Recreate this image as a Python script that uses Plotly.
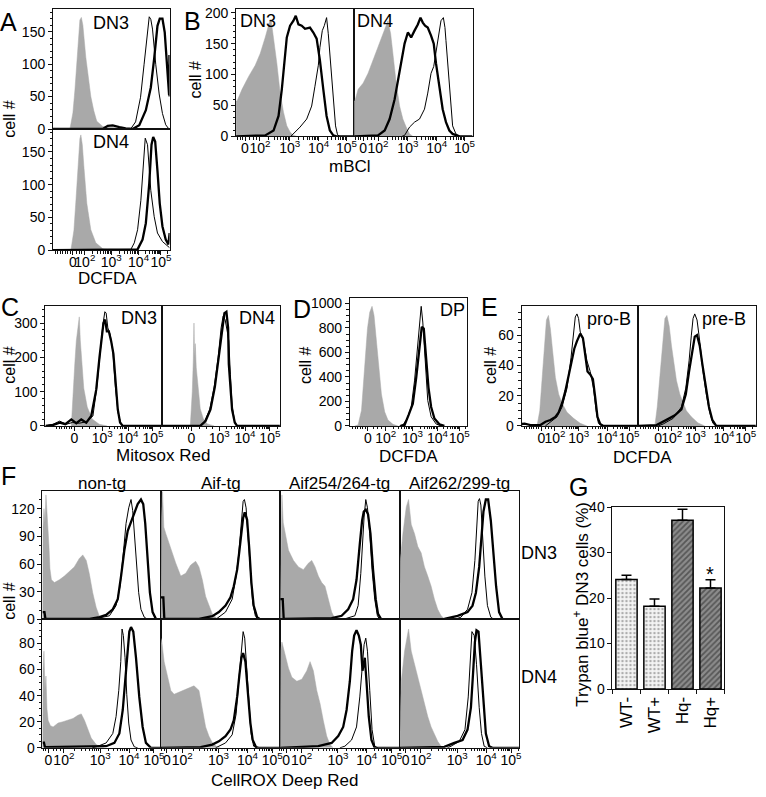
import math
import plotly.graph_objects as go

W, H = 766, 797
FONT = "Liberation Sans, Arial, Helvetica, sans-serif"
GRAY = "#a9a9a9"
INK = "#111111"

# ---------------- data (x = display channel within a panel, y = cell count) ----------------
# A: DCFDA, DN3 / DN4
A3_GRAY_X = [17, 20, 22, 25, 27, 28.5, 30, 33, 35.5, 38, 41, 44, 50, 58, 66, 75]
A3_GRAY_Y = [0, 25, 60, 135, 168, 172, 160, 110, 78, 50, 28, 12, 4, 3, 2, 0]
A3_THIN_X = [0, 78, 83, 88, 91.5, 95, 96.7, 98.3, 100, 103.3, 106.7, 110, 113.3, 116, 117.2]
A3_THIN_Y = [0, 0, 11, 49, 99, 154, 173, 169, 154, 99, 54, 24, 6.5, 1, 0]
A3_BOLD_X = [0, 50, 55, 60, 66.7, 73, 80, 86.7, 93.3, 98.3, 101.7, 105, 107.3, 110, 112.3, 114.3, 116, 116.7, 117, 117.2]
A3_BOLD_Y = [0, 0, 5, 5.5, 3, 1, 0, 6, 29, 64, 109, 159, 170, 170, 149, 99, 59, 52, 114, 50]
A4_GRAY_X = [18, 21, 23, 25, 27, 28, 29.5, 31, 34, 38, 43, 50, 58]
A4_GRAY_Y = [0, 30, 75, 131, 170, 176, 160, 128, 71, 31, 11, 2, 0]
A4_THIN_X = [0, 76, 78.3, 81.7, 85, 88.3, 90.7, 92.7, 95, 98.3, 101.7, 105, 110, 113.3, 117.2]
A4_THIN_Y = [0, 0, 1, 11, 31, 76, 131, 171, 161, 91, 51, 26, 13, 8.5, 3.5]
A4_BOLD_X = [0, 82, 85, 90, 93.3, 96.7, 99, 100.7, 102.7, 105, 107.3, 110, 113.3, 116, 117, 117.2]
A4_BOLD_Y = [0, 0, 1, 16, 41, 101, 161, 173, 166, 121, 71, 36, 16, 8.5, 26, 26]

# B: mBCl, DN3 / DN4
B3_GRAY_X = [0, 1, 6, 12.7, 19.3, 24.3, 29.3, 32.7, 34.3, 35.5, 37.7, 41, 44.3, 47.7, 51, 54.3, 57.7, 61]
B3_GRAY_Y = [57, 57, 76, 97, 115, 134, 160, 181, 189, 185, 160, 118, 70, 39, 17, 7, 1.6, 0]
B3_THIN_X = [55, 57.7, 64.3, 71, 76, 79.3, 82.7, 84.3, 86.7, 88.7, 91, 92.7, 95.3, 97.7, 100, 102, 104.3]
B3_THIN_Y = [0, 4, 15, 28, 49, 81, 115, 144, 171, 179, 192, 166, 113, 60, 17, 2.6, 0]
B3_BOLD_X = [0, 29.3, 37.7, 42.7, 46, 48.7, 51, 54.3, 57.7, 60, 62.7, 66, 69.3, 74.3, 77.7, 81, 84.3, 87.7, 91, 94.3, 97.7, 101, 119]
B3_BOLD_Y = [0, 1.6, 9.5, 33, 76, 123, 160, 179, 187, 195, 181, 179, 174, 176, 168, 158, 123, 76, 33, 9.5, 1.6, 0, 0]
B4_GRAY_X = [0, 0.7, 4, 9, 14, 19, 24, 29, 32.3, 34, 36.7, 39, 42.3, 45.7, 49, 52.3, 55.7, 59]
B4_GRAY_Y = [57, 57, 76, 86, 102, 123, 144, 166, 181, 187, 166, 129, 86, 49, 28, 15, 4, 0]
B4_THIN_X = [48, 50.7, 55.7, 60.7, 65.7, 70.7, 74, 77.3, 80, 83.3, 85.7, 87.3, 89.7, 91.3, 92.3, 94.7, 96.7, 99, 102.3, 105.7]
B4_THIN_Y = [0, 1.6, 15, 23, 28, 44, 70, 102, 113, 150, 176, 187, 192, 176, 155, 102, 54, 17, 4, 0]
B4_BOLD_X = [0, 24, 30.7, 35.7, 40.7, 44, 47.3, 50.7, 54, 57.3, 60.7, 64, 66.7, 69, 71.3, 74, 77.3, 80, 82.3, 85.7, 89, 92.3, 95.7, 99, 102.3, 106, 119]
B4_BOLD_Y = [0, 1.6, 9.5, 28, 60, 92, 123, 150, 168, 160, 171, 181, 192, 184, 179, 176, 163, 150, 118, 76, 44, 23, 9.5, 4, 1.6, 0, 0]

# C: Mitosox Red, DN3 / DN4
C3_GRAY_X = [26, 28, 29.5, 31, 32.5, 34, 35, 36.5, 38.5, 42, 47, 54, 62]
C3_GRAY_Y = [0, 130, 181, 248, 290, 318, 250, 175, 110, 55, 20, 5, 0]
C3_THIN_X = [0, 7.7, 14.3, 21, 27, 34, 41, 47.7, 51.7, 55, 57.7, 59.7, 61, 62.7, 65, 67.7, 70.3, 73, 76, 78.5]
C3_THIN_Y = [0, 5, 14, 5, 10, 8, 12, 29, 114, 219, 295, 333, 329, 286, 267, 219, 114, 38, 5, 0]
C3_BOLD_X = [0, 8, 14.3, 20, 26, 31, 36, 41, 46, 51, 54.3, 56.7, 58.3, 60, 61.7, 63.7, 66, 68.3, 70.3, 72.7, 75, 77.7, 118]
C3_BOLD_Y = [0, 3, 9.5, 5, 19, 8, 19, 9.5, 29, 105, 200, 257, 300, 310, 276, 276, 248, 210, 124, 48, 10, 0, 0]
C4_GRAY_X = [28, 30, 31, 31.7, 32.3, 33, 34, 35, 36.5, 38, 41, 45, 52]
C4_GRAY_Y = [0, 100, 190, 300, 200, 240, 170, 140, 90, 50, 22, 6, 0]
C4_THIN_X = [38, 42.5, 47.5, 52, 56, 59, 61, 63, 65.5, 66.7, 68.3, 70, 72.7, 75.5]
C4_THIN_Y = [0, 14, 48, 114, 200, 286, 320, 310, 270, 248, 150, 60, 10, 0]
C4_BOLD_X = [0, 38, 43.3, 48.3, 52.7, 56.7, 60, 62.3, 64.3, 66, 66.7, 68.3, 70, 72.7, 75, 118]
C4_BOLD_Y = [0, 0, 14, 48, 114, 200, 286, 329, 333, 286, 181, 105, 48, 10, 0, 0]

# D: DCFDA, DP
D_GRAY_X = [5, 8.3, 11.7, 15, 17.7, 20, 22.3, 24.3, 26.7, 29, 31.7, 35, 38.3, 43.3, 48.3]
D_GRAY_Y = [0, 8, 128, 501, 795, 928, 976, 901, 688, 448, 261, 115, 48, 13, 0]
D_THIN_X = [50, 53.3, 57.7, 61.7, 65, 67.7, 70, 71.7, 73.3, 75.7, 78.3, 81.7, 86.7, 91.7]
D_THIN_Y = [0, 8, 61, 155, 368, 635, 875, 976, 848, 501, 208, 75, 16, 0]
D_BOLD_X = [51, 55, 59, 63.3, 66.7, 70, 72.3, 74.3, 76.7, 79, 81.7, 85, 90, 95]
D_BOLD_Y = [0, 8, 88, 181, 395, 661, 808, 795, 555, 315, 155, 61, 13, 0]

# E: DCFDA, pro-B / pre-B
EP_GRAY_X = [14, 15.7, 18.3, 20.7, 23, 25, 27, 29, 31.3, 34, 37.3, 40.7, 45.7, 52.3, 59, 65.7]
EP_GRAY_Y = [0, 0.6, 10, 32, 56, 70, 73, 64, 49, 32, 21, 15, 9, 5, 1.7, 0]
EP_THIN_X = [24, 29, 35.7, 40.7, 45.7, 49.7, 52.3, 54, 55.7, 57.3, 59, 62.3, 65.7, 69, 72.3, 75, 77.3, 80.7]
EP_THIN_Y = [0, 2.8, 6, 12.5, 25, 45, 60, 72, 74, 71, 62, 56, 43, 36, 25, 10, 1.7, 0]
EP_BOLD_X = [0, 0.7, 3, 9, 19, 24, 29, 34, 37.3, 40.7, 44, 47.3, 50.7, 53, 55.7, 59, 61.7, 64, 66.3, 69, 71.7, 74, 76.3, 79, 82.3, 117.4]
EP_BOLD_Y = [1.5, 1.3, 1.5, 0.6, 0.6, 2.8, 3.9, 6, 9, 15, 23, 34, 45, 51, 56, 61, 58, 45, 36, 34, 31, 19, 6, 1.3, 0, 0]
EQ_GRAY_X = [14, 16.7, 19, 21.7, 24.3, 26.7, 28.7, 31, 33.3, 35.7, 38.3, 41.7, 45, 48.3, 53.3, 60, 66.7]
EQ_GRAY_Y = [0, 0.6, 12.5, 34, 56, 71, 73, 66, 53, 41, 30, 21, 15, 10, 6, 2, 0]
EQ_THIN_X = [20, 25, 35, 43.3, 47.7, 51, 53.3, 55, 56.7, 59, 61.7, 65, 68.3, 71.7, 75, 78.3]
EQ_THIN_Y = [0, 1.3, 5, 12.5, 25, 43, 60, 71, 74, 70, 56, 36, 21, 9, 1.7, 0]
EQ_BOLD_X = [0, 18.3, 28.3, 36.7, 43.3, 47.7, 51, 54.3, 56.7, 59, 61.7, 64.3, 67.7, 71, 74.3, 78.3, 118]
EQ_BOLD_Y = [0, 0.6, 4, 7, 11, 21, 36, 51, 59, 60, 53, 41, 25, 12.5, 4, 0, 0]

# F: CellROX Deep Red, rows DN3 / DN4, columns non-tg, Aif-tg, Aif254/264-tg, Aif262/299-tg
F13_GRAY_X = [0, 0.5, 1.5, 2.5, 3.5, 5, 6.5, 7.5, 9, 12, 17, 22, 27, 32, 37, 40.5, 44, 47, 50.5, 54, 57, 61]
F13_GRAY_Y = [0, 100, 120, 105, 135, 110, 80, 55, 43, 40, 43, 47, 52, 57, 66, 70, 64, 50, 29, 13, 4, 0]
F13_THIN_X = [50, 57.3, 67.3, 74, 78, 81.3, 84, 86.7, 89, 90.7, 92.3, 94, 96.7, 99, 102.3, 105.7]
F13_THIN_Y = [0, 1.4, 4, 15, 36, 72, 104, 121, 130, 118, 93, 61, 29, 11, 2.5, 0]
F13_BOLD_X = [0, 0.5, 2, 3, 47.3, 57.3, 64, 70.7, 75.7, 79, 82.3, 85.7, 89, 92.3, 95.7, 99, 101.3, 103.3, 105.7, 108, 110.7, 114, 119]
F13_BOLD_Y = [8, 8, 8, 0.5, 0.7, 2.5, 5, 11, 22, 47, 75, 96, 105, 114, 125, 130, 125, 104, 68, 29, 8, 0.7, 0]
F23_GRAY_X = [0, 0.7, 1.7, 3, 5, 8.3, 11.7, 15, 20, 25, 30, 35, 38.3, 41.7, 45, 48.3, 51.7, 56.7, 61.7]
F23_GRAY_Y = [0, 110, 139, 100, 93, 82, 72, 61, 47, 50, 59, 63, 57, 43, 25, 15, 6, 0.7, 0]
F23_THIN_X = [55, 65, 71.7, 75.7, 78.3, 80.7, 82.7, 84, 85.7, 87.7, 90, 92.3, 95, 98.3]
F23_THIN_Y = [0, 8, 22, 47, 71, 104, 128, 130, 121, 89, 50, 18, 4, 0]
F23_BOLD_X = [0, 0.5, 2.5, 3.5, 38.3, 51.7, 58.3, 65, 70, 73.3, 76.7, 79, 81, 82.7, 84.3, 86.7, 89, 91, 93.3, 96.7, 100, 120]
F23_BOLD_Y = [24, 24, 24, 0.5, 0.7, 3.5, 8, 15, 24, 36, 54, 75, 96, 110, 116, 108, 75, 40, 15, 2.5, 0, 0]
F33_GRAY_X = [0, 0.7, 1.7, 3, 5, 8.3, 13.3, 18.3, 23.3, 28.3, 31.7, 35, 38.3, 41.7, 45, 48.3, 51.7, 55, 58.3]
F33_GRAY_Y = [0, 100, 135, 105, 93, 75, 64, 57, 54, 61, 64, 57, 47, 40, 36, 22, 8, 0.7, 0]
F33_THIN_X = [60, 65, 75, 78.3, 81, 82.7, 84.3, 86, 87.7, 90, 92.3, 95, 97.7, 100]
F33_THIN_Y = [0, 0.7, 4, 15, 50, 86, 111, 130, 121, 93, 54, 22, 4, 0]
F33_BOLD_X = [0, 0.5, 2.5, 3.5, 51.7, 61.7, 68.3, 73.3, 76.7, 80, 82.3, 84, 86, 88.3, 90.7, 93.3, 96, 98.3, 101.7, 120]
F33_BOLD_Y = [22, 22, 22, 0.5, 1.4, 4, 11, 22, 43, 82, 107, 117, 119, 114, 93, 54, 22, 6, 0, 0]
F43_GRAY_X = [0, 0.7, 3.3, 6.7, 9, 11.7, 15, 18.3, 21.7, 25, 28.3, 31.7, 35, 38.3, 41.7, 45, 48.3]
F43_GRAY_Y = [0, 64, 93, 122, 130, 103, 93, 79, 72, 57, 47, 36, 22, 11, 4, 0.7, 0]
F43_THIN_X = [55, 61.7, 68.3, 72.7, 75.7, 77.7, 79, 80.3, 81.7, 83.3, 85.7, 88.3, 91.7, 95]
F43_THIN_Y = [0, 2.5, 11, 29, 64, 100, 128, 131, 124, 93, 47, 15, 2.5, 0]
F43_BOLD_X = [0, 45, 58.3, 68.3, 73.3, 76.7, 80, 82.3, 84.3, 86.7, 89, 91.7, 94.3, 97, 100, 103.3, 106, 120]
F43_BOLD_Y = [0, 0.7, 4, 8, 15, 29, 57, 93, 117, 130, 130, 107, 72, 36, 8, 0.7, 0, 0]
F14_GRAY_X = [0, 0.5, 1.5, 2.5, 3.5, 4.5, 5.7, 8, 10.7, 15.7, 20.7, 25.7, 30.7, 35.7, 39, 42.3, 45.7, 49, 54, 59, 62.3]
F14_GRAY_Y = [0, 60, 74, 45, 55, 30, 21, 17, 16, 19, 20, 21, 22.5, 25, 26, 21, 14, 7.5, 2.5, 0.5, 0]
F14_THIN_X = [50, 54, 64, 70.7, 74, 76.7, 78.7, 80, 81.3, 83, 84.7, 86.7, 89, 92.3, 95.7]
F14_THIN_Y = [0, 0.75, 3.75, 11, 24, 44, 66, 91, 86, 69, 41, 19, 6, 0.75, 0]
F14_BOLD_X = [0, 1.5, 2.5, 50.7, 64, 72.3, 77.3, 80.7, 83.3, 85.7, 87.3, 89, 91.3, 94, 97.3, 100.7, 104, 109, 119]
F14_BOLD_Y = [4, 4, 0.5, 0.75, 1.25, 3.75, 11, 29, 51, 74, 89, 92.5, 89, 69, 39, 16, 3.75, 0, 0]
F24_GRAY_X = [0, 1, 3.3, 6.7, 10, 13.3, 18.3, 23.3, 28.3, 33.3, 38.3, 41.7, 45, 48.3, 51.7, 56.7, 60]
F24_GRAY_Y = [84, 81, 66, 54, 44, 41, 42.5, 44, 46, 47.5, 44, 29, 16, 9, 4, 0.5, 0]
F24_THIN_X = [55, 65, 71.7, 75.7, 78.3, 80.7, 82.7, 84.3, 86.3, 88.3, 90.7, 93.3, 96.7]
F24_THIN_Y = [0, 3.75, 10, 26, 51, 74, 89, 84, 61, 34, 11, 1.25, 0]
F24_BOLD_X = [0, 40, 51.7, 58.3, 65, 70, 73.3, 76.7, 79, 81, 82.7, 85, 87.3, 90, 92.3, 95.7, 98.3, 120]
F24_BOLD_Y = [0, 0.5, 2.5, 5, 9, 14, 21, 39, 56, 69, 72.5, 66, 44, 19, 6, 0.5, 0, 0]
F34_GRAY_X = [0, 0.7, 1.7, 5, 8.3, 11.7, 16.7, 21.7, 26.7, 30, 33.3, 36.7, 40, 43.3, 46.7, 50, 53.3]
F34_GRAY_Y = [0, 75, 81, 71, 61, 54, 51, 52.5, 59, 66, 59, 44, 34, 21, 9, 2.5, 0]
F34_THIN_X = [60, 65, 71.7, 76.7, 80, 82.3, 84.3, 86, 87.7, 90, 92.3, 95, 98.3]
F34_THIN_Y = [0, 1.25, 6, 16, 39, 64, 79, 84, 74, 44, 14, 1.25, 0]
F34_BOLD_X = [0, 38.3, 51.7, 58.3, 63.3, 66.7, 70, 72.3, 74.3, 76.7, 79, 81, 82.7, 85, 86.7, 89, 91.7, 95, 120]
F34_BOLD_Y = [0, 1.25, 3.75, 9, 16, 29, 51, 74, 86, 90, 86, 79, 59, 69, 51, 24, 6, 0, 0]
F44_GRAY_X = [0, 1.7, 5, 9, 11.7, 15, 18.3, 21.7, 25, 28.3, 31.7, 35, 38.3, 41.7, 45]
F44_GRAY_Y = [0, 51, 74, 91, 74, 64, 54, 44, 34, 24, 16, 10, 5, 1.25, 0]
F44_THIN_X = [48, 51.7, 60, 65.7, 69, 71, 72.7, 75, 77.3, 80, 82.3, 85, 88.3]
F44_THIN_Y = [0, 1.25, 5, 14, 39, 69, 89, 86, 64, 31, 11, 1.25, 0]
F44_BOLD_X = [0, 45, 55, 63.3, 68.3, 71.7, 74, 75.7, 77.3, 79.3, 81.7, 84.3, 86.7, 90, 93.3, 120]
F44_BOLD_Y = [0, 0.75, 3.75, 6, 14, 31, 59, 81, 90, 89, 64, 34, 11, 1.25, 0, 0]

F_COLS = ["non-tg", "Aif-tg", "Aif254/264-tg", "Aif262/299-tg"]

# G: trypan blue+ DN3 cells (%)
G_CATS = ["WT-", "WT+", "Hq-", "Hq+"]
G_MEAN = [24.1, 18.2, 37.1, 22.2]
G_SEM = [0.9, 1.6, 2.4, 1.8]

# x tick label positions (channel) per panel type
DEC = ["0", "10<sup>2</sup>", "10<sup>3</sup>", "10<sup>4</sup>", "10<sup>5</sup>"]
A_XT = [20, 32, 58.5, 86, 108.5]
B_XT = [9, 24, 54, 83, 111]
C_XT = [29, 57, 83, 108]
D_XT = [18, 36, 63, 88, 110]
E_XT = [20, 33.5, 57.5, 86, 108]
F_XT = [6, 21.5, 58, 87, 112]

fig = go.Figure()
n_axes = [0]


def minor_ticks(pos, width):
    # log-spaced minor ticks between decade labels, plus a few linear ones near zero
    out = []
    decs = pos[1:]
    for a, b in zip(decs[:-1], decs[1:]):
        out += [a + math.log10(m) * (b - a) for m in range(2, 10)]
    step = decs[-1] - decs[-2]
    out += [decs[-1] + math.log10(m) * step for m in range(2, 10) if decs[-1] + math.log10(m) * step < width]
    z = pos[0]
    out += [z - 2.5 * i for i in range(1, 8) if z - 2.5 * i > 0.5]
    out += [z + (decs[0] - z) * f for f in (0.3, 0.55, 0.75)]
    return out


def panel(box, yr, ydt, ymin, xt=None, ylab=True):
    n_axes[0] += 1
    k = "" if n_axes[0] == 1 else str(n_axes[0])
    l, t, r, b = box
    base = dict(showline=True, linecolor=INK, linewidth=1, mirror=True, showgrid=False,
                zeroline=False, fixedrange=True, ticks="outside", tickcolor=INK, ticklen=4,
                tickfont=dict(family=FONT, size=14, color="black"))
    xa = dict(base, domain=[l / W, r / W], range=[0, r - l], anchor="y" + k, tickangle=0,
              ticklabelstandoff=-5, tickfont=dict(family=FONT, size=14, color="black"))
    if xt is not None:
        labels = DEC if len(xt) == 5 else ["0"] + DEC[2:]
        xa.update(tickmode="array", tickvals=xt, ticktext=labels,
                  minor=dict(tickmode="array", tickvals=minor_ticks(xt, r - l),
                             ticks="outside", ticklen=2.5, tickcolor=INK))
    else:
        xa.update(ticks="", showticklabels=False)
    ya = dict(base, domain=[1 - b / H, 1 - t / H], range=[0, yr], anchor="x" + k)
    if ylab:
        ya.update(tickmode="linear", tick0=0, dtick=ydt,
                  minor=dict(tickmode="linear", tick0=0, dtick=ymin, ticks="outside",
                             ticklen=2.5, tickcolor=INK))
    else:
        ya.update(ticks="", showticklabels=False)
    fig.update_layout({"xaxis" + k: xa, "yaxis" + k: ya})
    return "x" + k, "y" + k


def hist(ax, gx, gy, tx, ty, bx, by):
    xa, ya = ax
    fig.add_trace(go.Scatter(x=gx, y=gy, xaxis=xa, yaxis=ya, mode="lines", fill="tozeroy",
                             fillcolor=GRAY, line=dict(color=GRAY, width=0.5), hoverinfo="skip"))
    fig.add_trace(go.Scatter(x=tx, y=ty, xaxis=xa, yaxis=ya, mode="lines",
                             line=dict(color="black", width=1), hoverinfo="skip"))
    fig.add_trace(go.Scatter(x=bx, y=by, xaxis=xa, yaxis=ya, mode="lines",
                             line=dict(color="black", width=2.3), hoverinfo="skip"))


def txt(s, x, y, size=17, angle=0):
    fig.add_annotation(text=s, x=x / W, y=1 - y / H, xref="paper", yref="paper", showarrow=False,
                       textangle=angle, xanchor="center", yanchor="middle",
                       font=dict(family=FONT, size=size, color="black"))


# ---- A ----
hist(panel((53.3, 1, 170.5, 123.5), 185, 50, 10), A3_GRAY_X, A3_GRAY_Y, A3_THIN_X, A3_THIN_Y, A3_BOLD_X, A3_BOLD_Y)
hist(panel((53.3, 123.5, 170.5, 247), 185, 50, 10, A_XT), A4_GRAY_X, A4_GRAY_Y, A4_THIN_X, A4_THIN_Y, A4_BOLD_X, A4_BOLD_Y)
# ---- B ----
hist(panel((237.3, 1, 356, 131), 206, 50, 10, B_XT), B3_GRAY_X, B3_GRAY_Y, B3_THIN_X, B3_THIN_Y, B3_BOLD_X, B3_BOLD_Y)
hist(panel((356, 1, 475, 131), 206, 50, 10, B_XT, False), B4_GRAY_X, B4_GRAY_Y, B4_THIN_X, B4_THIN_Y, B4_BOLD_X, B4_BOLD_Y)
# ---- C ----
hist(panel((45.7, 304, 163.3, 426.5), 350, 100, 20, C_XT), C3_GRAY_X, C3_GRAY_Y, C3_THIN_X, C3_THIN_Y, C3_BOLD_X, C3_BOLD_Y)
hist(panel((163.3, 304, 281.7, 426.5), 350, 100, 20, C_XT, False), C4_GRAY_X, C4_GRAY_Y, C4_THIN_X, C4_THIN_Y, C4_BOLD_X, C4_BOLD_Y)
# ---- D ----
hist(panel((351.7, 295.7, 469.3, 426.5), 1046, 200, 50, D_XT), D_GRAY_X, D_GRAY_Y, D_THIN_X, D_THIN_Y, D_BOLD_X, D_BOLD_Y)
# ---- E ----
hist(panel((524.3, 304, 641.7, 426.5), 79.3, 20, 5, E_XT), EP_GRAY_X, EP_GRAY_Y, EP_THIN_X, EP_THIN_Y, EP_BOLD_X, EP_BOLD_Y)
hist(panel((641.7, 304, 760, 426.5), 79.3, 20, 5, E_XT, False), EQ_GRAY_X, EQ_GRAY_Y, EQ_THIN_X, EQ_THIN_Y, EQ_BOLD_X, EQ_BOLD_Y)
# ---- F ----
f_left = [42.7, 161.7, 281.7, 401.7, 521.7]
f_dn3 = [(F13_GRAY_X, F13_GRAY_Y, F13_THIN_X, F13_THIN_Y, F13_BOLD_X, F13_BOLD_Y),
         (F23_GRAY_X, F23_GRAY_Y, F23_THIN_X, F23_THIN_Y, F23_BOLD_X, F23_BOLD_Y),
         (F33_GRAY_X, F33_GRAY_Y, F33_THIN_X, F33_THIN_Y, F33_BOLD_X, F33_BOLD_Y),
         (F43_GRAY_X, F43_GRAY_Y, F43_THIN_X, F43_THIN_Y, F43_BOLD_X, F43_BOLD_Y)]
f_dn4 = [(F14_GRAY_X, F14_GRAY_Y, F14_THIN_X, F14_THIN_Y, F14_BOLD_X, F14_BOLD_Y),
         (F24_GRAY_X, F24_GRAY_Y, F24_THIN_X, F24_THIN_Y, F24_BOLD_X, F24_BOLD_Y),
         (F34_GRAY_X, F34_GRAY_Y, F34_THIN_X, F34_THIN_Y, F34_BOLD_X, F34_BOLD_Y),
         (F44_GRAY_X, F44_GRAY_Y, F44_THIN_X, F44_THIN_Y, F44_BOLD_X, F44_BOLD_Y)]
for i in range(4):
    l, r = f_left[i], f_left[i + 1]
    hist(panel((l, 493.3, r, 624), 138.8, 30, 10, None, i == 0), *f_dn3[i])
    hist(panel((l, 624, r, 755), 98.3, 20, 5, F_XT, i == 0), *f_dn4[i])
    txt(F_COLS[i], (l + r) / 2, 485)

# ---- G ----
n_axes[0] += 1
gk = str(n_axes[0])
fig.update_layout({
    "xaxis" + gk: dict(domain=[615.7 / W, 728.3 / W], anchor="y" + gk, range=[-0.5, 3.5],
                       showline=True, linecolor=INK, mirror=True, ticks="outside", ticklen=4,
                       tickcolor=INK, tickson="boundaries", tickangle=-90,
                       tickfont=dict(family=FONT, size=17, color="black"), fixedrange=True),
    "yaxis" + gk: dict(domain=[1 - 695 / H, 1 - 509.3 / H], anchor="x" + gk, range=[0, 40],
                       dtick=10, showline=True, linecolor=INK, mirror=True, showgrid=False,
                       zeroline=False, ticks="outside", ticklen=4, tickcolor=INK,
                       tickfont=dict(family=FONT, size=14, color="black"), fixedrange=True),
})
fig.add_trace(go.Bar(
    x=G_CATS, y=G_MEAN, xaxis="x" + gk, yaxis="y" + gk, width=0.76,
    marker=dict(line=dict(color="black", width=1.5),
                pattern=dict(shape=[".", ".", "/", "/"], fgcolor=["#666", "#666", "#222", "#222"],
                             bgcolor=["#f4f4f4", "#f4f4f4", "#8c8c8c", "#8c8c8c"],
                             size=[4, 4, 4, 4], solidity=[0.3, 0.3, 0.45, 0.45])),
    error_y=dict(type="data", array=G_SEM, arrayminus=[0] * 4, symmetric=False,
                 color="black", thickness=1.5, width=5),
    hoverinfo="skip"))

# ---- text ----
for s, x, y in [("A", 9, 14), ("B", 194, 13), ("C", 10, 305), ("D", 304, 307),
                ("E", 492, 305), ("F", 9, 478), ("G", 582, 489)]:
    txt(s, x, y, size=25)
for x, y in [(10, 113), (197, 73), (10, 364), (307, 365), (493, 365), (10, 605)]:
    txt("cell #", x, y, size=16, angle=-90)
for s, x, y in [("DN3", 112, 15), ("DN4", 112, 137), ("DN3", 259, 13), ("DN4", 377, 13),
                ("DN3", 140, 316), ("DN4", 258, 316), ("DP", 455, 308),
                ("pro-B", 612, 317), ("pre-B", 728, 317), ("DN3", 542, 556), ("DN4", 542, 683)]:
    txt(s, x, y, size=18)
for s, x, y in [("DCFDA", 108, 276), ("mBCl", 352, 162), ("Mitosox Red", 164, 457),
                ("DCFDA", 411, 458), ("DCFDA", 646, 459), ("CellROX Deep Red", 286, 788)]:
    txt(s, x, y, size=17)
txt("Trypan blue<sup>+</sup> DN3 cells (%)", 584, 608, size=17, angle=-90)
txt("*", 714, 578, size=20)

fig.update_layout(width=W, height=H, margin=dict(l=0, r=0, t=0, b=0), showlegend=False,
                  plot_bgcolor="white", paper_bgcolor="white", bargap=0.24)
fig.write_html("out.html", config={"displayModeBar": False},
               post_script="document.body.style.margin='0';")
